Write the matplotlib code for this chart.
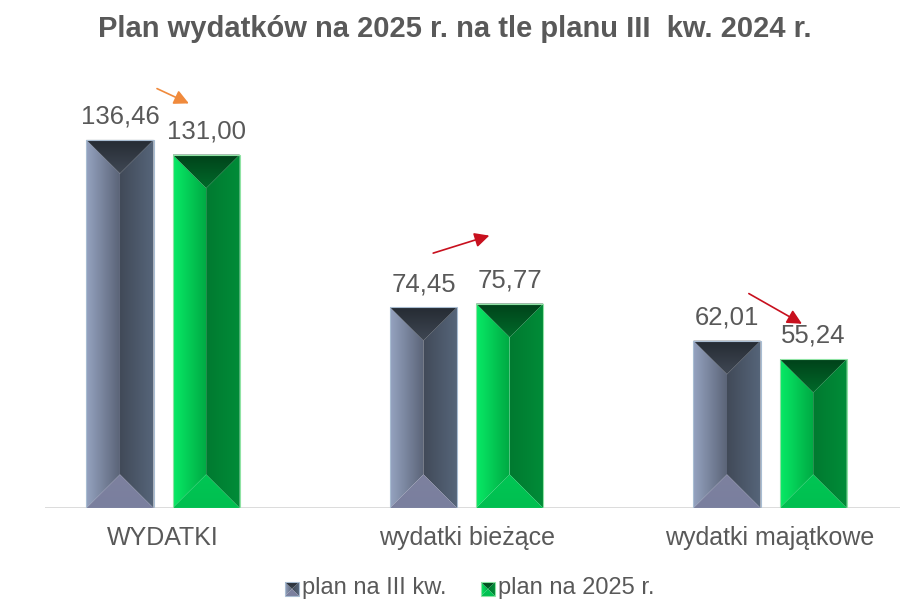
import numpy as np
import matplotlib.pyplot as plt
from matplotlib.patches import Polygon
from matplotlib.colors import LinearSegmentedColormap

plt.rcParams['font.family'] = ['Liberation Sans', 'DejaVu Sans']

# data
categories = ['WYDATKI', 'wydatki bieżące', 'wydatki majątkowe']
series_names = ['plan na III kw.', 'plan na 2025 r.']
plan_iii_kw = [136.46, 74.45, 62.01]
plan_2025 = [131.00, 75.77, 55.24]
title = 'Plan wydatków na 2025 r. na tle planu III  kw. 2024 r.'

# arrows: (x start, y start, x end, y end, colour) in data units
arrows = [(-0.02, 155.5, 0.085, 150.0, '#f08a3c'),
          (0.89, 94.5, 1.075, 101.0, '#c8101e'),
          (1.93, 79.5, 2.105, 68.3, '#c8101e')]

txt = '#595959'

# bevel colours: left face, right face, top, bottom (from -> to)
styles = [
    dict(left=('#95a3c0', '#5b6478'), right=('#414a58', '#56657a'),
         top=('#3f4753', '#252b33'), bottom=('#7a7f9e', '#7d819f'), edge='#a9bdd2'),
    dict(left=('#08ea66', '#00a943'), right=('#007a30', '#008c38'),
         top=('#006a2a', '#00421a'), bottom=('#00bf50', '#00c654'), edge='#8fe3a4'),
]

fig = plt.figure(figsize=(9.10, 5.99), dpi=100)
ax_box = [45 / 910, 91 / 599, 855 / 910, 448 / 599]
ax = fig.add_axes(ax_box)
xlim = (-0.389, 2.428)
ylim = (0, 166.1)
ax_w_px, ax_h_px = 855, 448
px_x = ax_w_px / (xlim[1] - xlim[0])
px_y = ax_h_px / (ylim[1] - ylim[0])


def grad_poly(a, verts, c_from, c_to, horizontal, zorder=2):
    xs = [v[0] for v in verts]
    ys = [v[1] for v in verts]
    poly = Polygon(verts, closed=True, facecolor='none', edgecolor='none')
    a.add_patch(poly)
    cmap = LinearSegmentedColormap.from_list('g', [c_from, c_to])
    if horizontal:
        img = np.linspace(0, 1, 64).reshape(1, -1)
    else:
        img = np.linspace(0, 1, 64).reshape(-1, 1)
    im = a.imshow(img, cmap=cmap, extent=(min(xs), max(xs), min(ys), max(ys)),
                  origin='lower', aspect='auto', interpolation='bicubic', zorder=zorder)
    im.set_clip_path(poly)


def bevel_bar(a, x0, x1, y0, y1, dy, st, zorder=2):
    xc = (x0 + x1) / 2
    dy = min(dy, (y1 - y0) / 2)
    tl, tr, bl, br = (x0, y1), (x1, y1), (x0, y0), (x1, y0)
    ct, cb = (xc, y1 - dy), (xc, y0 + dy)
    grad_poly(a, [tl, ct, cb, bl], st['left'][0], st['left'][1], True, zorder)
    grad_poly(a, [ct, tr, br, cb], st['right'][0], st['right'][1], True, zorder)
    grad_poly(a, [tl, tr, ct], st['top'][0], st['top'][1], False, zorder)
    grad_poly(a, [bl, br, cb], st['bottom'][0], st['bottom'][1], False, zorder)
    a.add_patch(Polygon([tl, tr, br, bl], closed=True, facecolor='none',
                        edgecolor=st['edge'], lw=0.8, zorder=zorder + 1))


bar_w = 0.221
offset = 0.142
x = np.arange(len(categories))
for s, vals in enumerate([plan_iii_kw, plan_2025]):
    xs = x + (offset if s else -offset)
    for xi, v in zip(xs, vals):
        dy = (bar_w / 2) * px_x / px_y
        bevel_bar(ax, xi - bar_w / 2, xi + bar_w / 2, 0, v, dy, styles[s])
        ax.annotate(f'{v:.2f}'.replace('.', ','), (xi, v), xytext=(0, 8),
                    textcoords='offset points', ha='center', va='bottom',
                    fontsize=18.5, color=txt)

for x0, y0, x1, y1, c in arrows:
    ax.annotate('', xy=(x1, y1), xytext=(x0, y0), annotation_clip=False,
                arrowprops=dict(arrowstyle='-|>', color=c, lw=1.2, mutation_scale=22,
                                shrinkA=0, shrinkB=0))

ax.axhline(0, color='#d9d9d9', lw=1.3, zorder=1)
ax.set_xlim(*xlim)
ax.set_ylim(*ylim)
ax.set_xticks(x)
ax.set_xticklabels(categories, fontsize=18, color=txt)
ax.tick_params(axis='x', length=0, pad=13)
ax.set_yticks([])
for sp in ax.spines.values():
    sp.set_visible(False)

fig.text(0.5, 1 - 29 / 599, title, ha='center', va='center', fontsize=21,
         fontweight='bold', color=txt)

# legend drawn in pixel coordinates
lax = fig.add_axes([0, 0, 1, 1], zorder=-1)
lax.set_xlim(0, 910)
lax.set_ylim(0, 599)
lax.axis('off')
leg_x = [285, 481]
for s, name in enumerate(series_names):
    lx = leg_x[s]
    bevel_bar(lax, lx, lx + 14, 599 - 596, 599 - 582, 7, styles[s])
    lax.text(lx + 17, 599 - 588, name, ha='left', va='center', fontsize=17, color=txt)
lax.set_xlim(0, 910)
lax.set_ylim(0, 599)

fig.savefig('out.png', dpi=100)
